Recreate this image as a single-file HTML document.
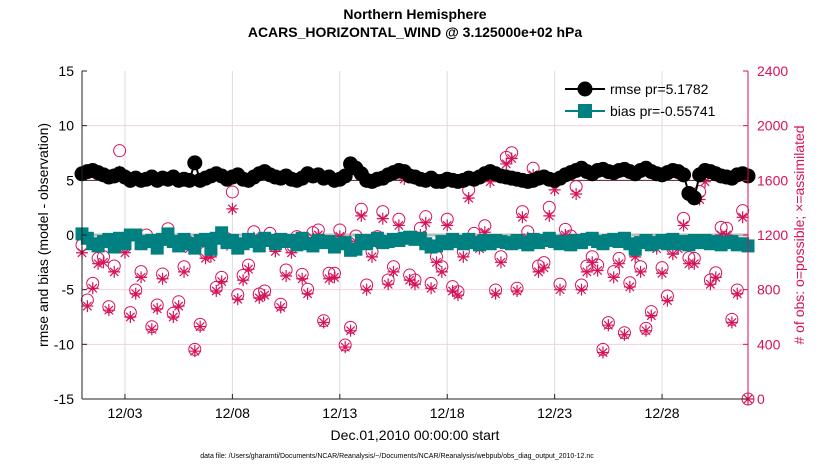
<!DOCTYPE html>
<html><head><meta charset="utf-8">
<style>
body{margin:0;background:#fff;}
svg{display:block;font-family:"Liberation Sans",Arial,sans-serif;}
</style></head>
<body>
<svg id="chart" width="830" height="470" viewBox="0 0 830 470">
<text x="415" y="19" text-anchor="middle" font-size="14" font-weight="bold">Northern Hemisphere</text>
<text x="415" y="37" text-anchor="middle" font-size="14" font-weight="bold">ACARS_HORIZONTAL_WIND @ 3.125000e+02 hPa</text>
<g id="grid"></g>
<g id="marks"></g>
<g id="axes"></g>
<g>
  <g>
    <line x1="565" y1="89" x2="605" y2="89" stroke="#000" stroke-width="2"/>
    <circle cx="585" cy="89" r="7.5" fill="#000"/>
    <text x="610" y="94" font-size="14">rmse pr=5.1782</text>
  </g>
  <g>
    <line x1="565" y1="111" x2="605" y2="111" stroke="#008080" stroke-width="2"/>
    <rect x="578" y="104" width="14" height="14" fill="#008080"/>
    <text x="610" y="116" font-size="14">bias pr=-0.55741</text>
  </g>
</g>
<text transform="translate(48,235) rotate(-90)" text-anchor="middle" font-size="14">rmse and bias (model - observation)</text>
<text transform="translate(804,235) rotate(-90)" text-anchor="middle" font-size="14" fill="#d6125a"># of obs: o=possible; ×=assimilated</text>
<text x="415" y="440" text-anchor="middle" font-size="14">Dec.01,2010 00:00:00 start</text>
<text x="397" y="458" text-anchor="middle" font-size="7">data file: /Users/gharamti/Documents/NCAR/Reanalysis/~/Documents/NCAR/Reanalysis/webpub/obs_diag_output_2010-12.nc</text>
</svg>
<script>
const xTickLabels = ["12/03","12/08","12/13","12/18","12/23","12/28"];
const xTickDays = [2,7,12,17,22,27];
const yLeftTicks = [15,10,5,0,-5,-10,-15];
const yRightTicks = [2400,2000,1600,1200,800,400,0];
const rmse = [5.6,5.8,5.9,5.7,5.5,5.3,5.4,5.6,5.3,5.0,
5.2,5.0,5.1,5.3,5.0,5.2,5.1,5.3,5.0,5.1,
5.0,6.6,5.0,5.2,5.4,5.6,5.4,5.1,5.3,5.5,
5.1,5.0,5.3,5.6,5.8,5.5,5.3,5.2,5.4,5.1,
5.0,5.2,5.6,5.4,5.5,5.2,5.3,5.0,5.1,5.4,
6.5,6.1,5.6,5.0,4.9,5.1,5.2,5.5,5.7,5.9,
5.8,5.4,5.3,5.1,5.0,5.2,4.9,4.9,5.1,5.0,
4.9,5.0,5.2,5.1,5.3,5.6,5.8,5.6,5.4,5.3,
5.2,5.1,5.0,4.9,5.0,5.2,5.3,5.1,5.0,5.2,
5.5,5.7,5.9,6.1,5.8,5.6,5.9,6.0,5.8,5.7,
5.9,6.0,5.8,5.6,5.9,6.1,5.8,5.6,5.5,5.7,
5.9,5.8,5.5,3.8,3.4,5.5,5.9,5.8,5.6,5.4,
5.3,5.2,5.5,5.6,5.4];
const bias = [0.1,-0.3,-0.8,-1.0,-0.6,-0.4,-1.1,-0.3,-0.8,0.0,
0.0,-0.8,-0.6,-0.5,-1.2,-0.4,0.1,-0.6,-1.0,-0.4,
-0.8,-1.2,-0.5,-0.4,-1.3,-0.3,0.2,-0.7,-0.5,-1.2,
-0.8,-0.4,-0.6,-1.0,-0.3,-0.5,-0.8,-0.4,-0.6,-0.5,
-0.9,-0.3,-0.8,-1.0,-0.5,-0.7,-0.6,-1.1,-0.8,-0.7,
-1.4,-1.3,-0.5,-0.8,-0.5,-0.3,-0.7,-0.6,-0.4,-0.5,
-0.3,-0.2,-0.4,-0.3,-0.8,-1.1,-1.0,-0.6,-0.8,-0.4,
-0.6,-0.8,-0.4,-0.7,-0.9,-0.5,-0.8,-0.5,-0.6,-0.7,
-0.8,-0.5,-0.7,-0.9,-0.4,-0.7,-0.5,-0.3,-0.6,-0.8,
-0.6,-0.9,-0.5,-0.7,-0.4,-0.3,-0.6,-0.8,-0.5,-0.4,
-0.6,-0.3,-0.8,-1.3,-0.7,-0.5,-0.9,-0.7,-0.5,-0.8,
-0.4,-0.8,-0.6,-0.9,-0.5,-0.7,-0.5,-0.8,-0.6,-0.9,
-0.7,-0.6,-0.9,-0.8,-1.0];
const obsPossible = [1127,724,846,1029,1041,676,973,1817,1115,632,
798,932,1200,529,688,915,1246,627,712,968,
1144,363,546,1071,1075,817,890,1173,1515,763,
905,980,1224,768,790,1212,1119,693,944,1110,
1188,912,803,
1217,1237,573,920,920,1237,395,524,1193,1388,834,1078,1188,1371,871,968,1315,1651,907,871,1249,1334,846,1041,968,1315,822,785,1078,1529,1212,1139,1268,1639,798,1041,1768,1802,810,1371,1224,1688,
973,998,1402,1590,841,1241,1193,1554,834,973,1041,980,363,559,932,1029,485,851,1085,968,517,639,1144,961,754,1102,1139,1322,1034,1029,1517,1646,871,924,1256,1249,583,798,1378,0];
const obsAssim = [1070,680,810,990,1000,650,930,1663,1070,600,
770,890,1150,510,660,880,1200,600,680,930,
1100,350,530,1030,1040,790,860,1130,1391,730,
870,950,1180,740,760,1170,1080,670,900,1070,
1150,880,770,
1180,1200,560,880,890,1190,380,500,1150,1340,800,1040,1150,1320,840,930,1270,1610,870,840,1200,1290,810,1000,930,1270,790,760,1040,1470,1170,1100,1220,1590,770,1000,1720,1760,790,1330,1180,1640,
930,960,1340,1530,800,1200,1150,1500,800,930,1000,940,340,540,890,990,470,820,1040,930,500,610,1100,920,720,1060,1100,1270,990,990,1460,1590,840,890,1200,1200,560,770,1330,0];

const NS="http://www.w3.org/2000/svg";
const L=82,R=748,T=71,B=399;
const DAYS=31;
function xs(d){return L+(d/DAYS)*(R-L);}
function yl(v){return T+(15-v)/30*(B-T);}
function yr(v){return B-v/2400*(B-T);}
function mk(tag,attrs,parent){const e=document.createElementNS(NS,tag);for(const k in attrs)e.setAttribute(k,attrs[k]);parent.appendChild(e);return e;}
const grid=document.getElementById('grid'),marks=document.getElementById('marks'),axes=document.getElementById('axes');
const PINK="#d6125a";

xTickDays.forEach((d,i)=>{
  const g=mk('line',{x1:xs(d),x2:xs(d),y1:T,y2:B,stroke:"#dcdcdc","stroke-width":1},grid);
  
  
  const t=mk('line',{x1:xs(d),x2:xs(d),y1:B,y2:B-5,stroke:"#222"},axes);
  
  
  const lb=mk('text',{x:xs(d),y:B+19,"text-anchor":"middle","font-size":14},axes);
  lb.textContent=xTickLabels[i];
  
  
});
yRightTicks.forEach(v=>{
  if(v>0&&v<2400){
    const g=mk('line',{x1:L,x2:R,y1:yr(v),y2:yr(v),stroke:v===1600?"#5a1a2a":"#f3cfdb","stroke-width":1},grid);
    
    
  }
  const t=mk('line',{x1:R,x2:R-5,y1:yr(v),y2:yr(v),stroke:PINK},axes);
  
  
  const lb=mk('text',{x:R+9,y:yr(v)+5,"font-size":14,fill:PINK},axes);
  lb.textContent=v;
  
  
});
const z=mk('line',{x1:L,x2:R,y1:yl(0),y2:yl(0),stroke:"#bbbbbb","stroke-width":3},grid);



yLeftTicks.forEach(v=>{
  const t=mk('line',{x1:L,x2:L+5,y1:yl(v),y2:yl(v),stroke:"#222"},axes);
  
  
  const lb=mk('text',{x:L-8,y:yl(v)+5,"text-anchor":"end","font-size":14},axes);
  lb.textContent=v;
  
  
});
const al=mk('line',{x1:L,x2:L,y1:T,y2:B,stroke:"#222"},axes);


const ab=mk('line',{x1:L,x2:R,y1:B,y2:B,stroke:"#222"},axes);


const ar=mk('line',{x1:R,x2:R,y1:T,y2:B,stroke:PINK},axes);



const N=obsPossible.length;
const step=DAYS/(N-1);
for(let i=0;i<N;i++){
  const x=xs(i*step);
  const c=mk('circle',{cx:x,cy:yr(obsPossible[i]),r:6,fill:"none",stroke:PINK,"stroke-width":1},marks);
  
  
  const y=yr(obsAssim[i]),s=6;
  const p=mk('path',{d:`M${x-s},${y}H${x+s}M${x},${y-s}V${y+s}M${x-4.2},${y-4.2}L${x+4.2},${y+4.2}M${x-4.2},${y+4.2}L${x+4.2},${y-4.2}`,stroke:PINK,"stroke-width":1.2,fill:"none"},marks);
  
  
}
const bs=(DAYS/(bias.length-1));
const bl=mk('polyline',{points:bias.map((v,i)=>xs(i*bs)+","+yl(v)).join(" "),fill:"none",stroke:"#008080","stroke-width":2},marks);


bias.forEach((v,i)=>{
  const r=mk('rect',{x:xs(i*bs)-6.5,y:yl(v)-6.5,width:13,height:13,fill:"#008080"},marks);
  
  
});
const rs=(DAYS/(rmse.length-1));
const rl=mk('polyline',{points:rmse.map((v,i)=>xs(i*rs)+","+yl(v)).join(" "),fill:"none",stroke:"#000","stroke-width":2},marks);


rmse.forEach((v,i)=>{
  const c=mk('circle',{cx:xs(i*rs),cy:yl(v),r:7.5,fill:"#000"},marks);
  
  
});
</script>
</body></html>
